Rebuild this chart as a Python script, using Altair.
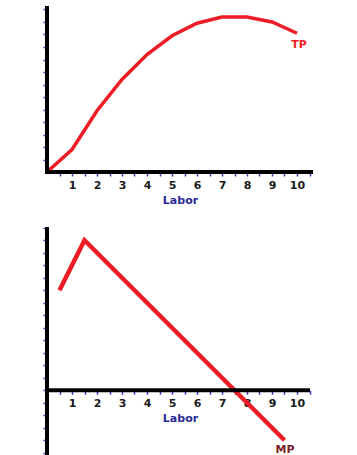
import altair as alt
import pandas as pd

labor_tp = [0, 1, 2, 3, 4, 5, 6, 7, 8, 9, 10]
tp_values = [0, 1.8, 4.9, 7.4, 9.4, 10.9, 11.9, 12.4, 12.4, 12.0, 11.1]

labor_mp = [0.5, 1.5, 2.5, 3.5, 4.5, 5.5, 6.5, 7.5, 8.5, 9.5]
mp_values = [8, 12, 10, 8, 6, 4, 2, 0, -2, -4]

x_ticks = [0.5, 1, 1.5, 2, 2.5, 3, 3.5, 4, 4.5, 5, 5.5, 6, 6.5, 7, 7.5, 8, 8.5, 9, 9.5, 10, 10.5]
y_ticks_top = list(range(1, 14))
y_ticks_bottom = list(range(-5, 14))

RED = "#ee1c25"
BLUE = "#2a2a9a"
FONT = "DejaVu Sans"

X_MAX = 10.64
W = 266

tp_df = pd.DataFrame({"labor": labor_tp, "value": tp_values})
mp_df = pd.DataFrame({"labor": labor_mp, "value": mp_values})


def x_enc(offset=0):
    return alt.X(
        "labor:Q",
        scale=alt.Scale(domain=[0, X_MAX], nice=False, zero=False),
        axis=alt.Axis(
            values=x_ticks,
            labelExpr="datum.value % 1 == 0 ? format(datum.value, 'd') : ''",
            domain=False,
            grid=False,
            tickColor="#3b3bc0",
            tickSize=4,
            tickWidth=1.5,
            labelFont=FONT,
            labelFontWeight="bold",
            labelFontSize=11,
            labelColor="#1a1a1a",
            labelPadding=3,
            labelFlush=False,
            labelOverlap=False,
            title="Labor",
            titleFont=FONT,
            titleFontWeight="bold",
            titleFontSize=11,
            titleColor=BLUE,
            titlePadding=4,
            offset=offset,
        ),
    )


def y_enc(domain, ticks):
    return alt.Y(
        "value:Q",
        scale=alt.Scale(domain=domain, nice=False, zero=False),
        axis=alt.Axis(
            values=ticks,
            labels=False,
            title=None,
            grid=False,
            domain=True,
            domainColor="#3b3bc0",
            domainWidth=1,
            tickColor="#3b3bc0",
            tickSize=4,
            tickWidth=1.5,
        ),
    )


# ---------- top panel ----------
top_dom = [0, 13.04]
TH = 163
tp_line = alt.Chart(tp_df).mark_line(color=RED, strokeWidth=3.5).encode(
    x=x_enc(), y=y_enc(top_dom, y_ticks_top)
)
top_xaxis = alt.Chart(pd.DataFrame({"value": [0]})).mark_rule(color="black", strokeWidth=4).encode(
    y=y_enc(top_dom, y_ticks_top), x=alt.value(-2), x2=alt.value(W)
)
top_yaxis = alt.Chart(pd.DataFrame({"labor": [0]})).mark_rule(color="black", strokeWidth=4).encode(
    x=x_enc(), y=alt.value(-3), y2=alt.value(TH)
)
tp_label = alt.Chart(pd.DataFrame({"labor": [10.08], "value": [10.16], "t": ["TP"]})).mark_text(
    color=RED, font=FONT, fontWeight="bold", fontSize=11
).encode(x=x_enc(), y=y_enc(top_dom, y_ticks_top), text="t:N")

top = alt.layer(tp_line, top_xaxis, top_yaxis, tp_label).properties(width=W, height=TH)

# ---------- bottom panel ----------
bot_dom = [-5.18, 13.06]
BH = 228
offset = -(5.18 / (13.06 + 5.18)) * BH
mp_line = alt.Chart(mp_df).mark_line(color=RED, strokeWidth=4.5).encode(
    x=x_enc(offset), y=y_enc(bot_dom, y_ticks_bottom)
)
bot_xaxis = alt.Chart(pd.DataFrame({"value": [0]})).mark_rule(color="black", strokeWidth=4).encode(
    y=y_enc(bot_dom, y_ticks_bottom), x=alt.value(-2), x2=alt.value(W - 3)
)
bot_yaxis = alt.Chart(pd.DataFrame({"labor": [0]})).mark_rule(color="black", strokeWidth=4).encode(
    x=x_enc(offset), y=alt.value(0), y2=alt.value(BH)
)
mp_label = alt.Chart(pd.DataFrame({"labor": [9.52], "value": [-4.78], "t": ["MP"]})).mark_text(
    color="#7a1f1f", font=FONT, fontWeight="bold", fontSize=11
).encode(x=x_enc(offset), y=y_enc(bot_dom, y_ticks_bottom), text="t:N")

bottom = alt.layer(mp_line, bot_xaxis, bot_yaxis, mp_label).properties(width=W, height=BH)

chart = alt.vconcat(top, bottom, spacing=20).properties(
    padding={"left": 40, "top": 4, "right": 10, "bottom": 0},
    background="white",
).configure_view(stroke=None)

chart.save("out.html", embed_options={"renderer": "svg", "actions": False})
